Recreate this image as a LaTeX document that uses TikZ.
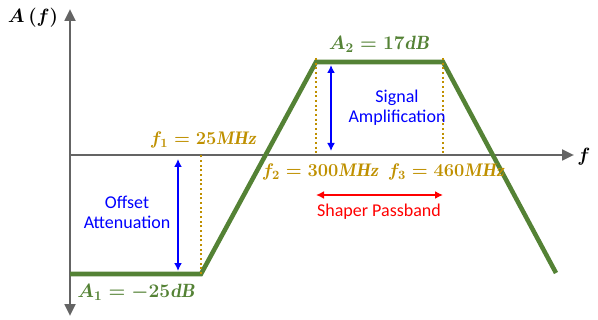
\documentclass[tikz,border=0pt]{standalone}
\usepackage{amsmath}
\usepackage{fontspec}
\setsansfont{Carlito}
\usetikzlibrary{arrows.meta}
\definecolor{curvegreen}{RGB}{84,130,53}
\definecolor{labelgold}{RGB}{191,144,0}
\definecolor{axisgray}{RGB}{100,100,100}

\begin{document}
\begin{tikzpicture}[x=0.75pt,y=-0.75pt,
	axis/.style={draw=axisgray, line width=2pt},
	response/.style={draw=curvegreen, line width=3.4pt, line join=miter},
	guide/.style={draw=labelgold, line width=1.5pt, dotted},
	span/.style={line width=1.8pt, {Latex[length=6pt,width=6pt]}-{Latex[length=6pt,width=6pt]}},
	mlabel/.style={font=\Large\boldmath, inner sep=0pt},
	flabel/.style={font=\Large\boldmath, scale=0.95, inner sep=0pt, text=labelgold},
	slabel/.style={font=\sffamily\fontsize{13.5}{15}\selectfont, align=center, inner sep=0pt}]
	\useasboundingbox (0,0) rectangle (598,320);

	% Draw axes
	\coordinate (origin) at (70,155);
	\coordinate (ytop) at (70,9);
	\coordinate (ybot) at (70,316);
	\coordinate (xend) at (574,155);
	%Y
	\draw[axis, {Triangle[length=9pt,width=8pt]}-{Triangle[length=9pt,width=8pt]}] (ybot) -- (ytop);
	\node[mlabel] (ylabel) at (33,18) {$A\,(f)$};
	%X
	\draw[axis, -{Triangle[length=9pt,width=8pt]}] (origin) -- (xend);
	\node[mlabel] (xlabel) at (584,157) {$f$};

	% Plot response curve
	\coordinate (c0) at (70,274);
	\coordinate (c1) at (201,274);
	\coordinate (c2) at (316,62);
	\coordinate (c3) at (443,62);
	\coordinate (c4) at (556,273);
	\draw[response] (c0) -- (c1) -- (c2) -- (c3) -- (c4);

	%Plot illustrative lines
	\coordinate (f1) at (201,155);
	\coordinate (f2) at (316,155);
	\coordinate (f3) at (443,155);
	\draw[guide] (c1) -- (f1);
	\draw[guide] ([yshift=3pt]c2) -- (f2);
	\draw[guide] ([yshift=3pt]c3) -- (f3);

	%Arrows
	\coordinate (att top) at (178,159);
	\coordinate (att bot) at (178,271);
	\coordinate (amp top) at (331,65);
	\coordinate (amp bot) at (331,151);
	\coordinate (pb left) at (316,195);
	\coordinate (pb right) at (443,195);
	\draw[span, blue] (att top) -- (att bot);
	\draw[span, blue] (amp top) -- (amp bot);
	\draw[span, red] (pb left) -- (pb right);

	%Add labels
	\node[slabel, text=blue] (att) at (127,212) {Offset\\Attenuation};
	\node[slabel, text=blue] (amp) at (397,108) {Signal\\Amplification};
	\node[slabel, text=red] (pb) at (379,212) {Shaper Passband};
	\node[flabel] (f1 label) at (203,140) {$f_1 = 25\mathit{MHz}$};
	\node[flabel] (f2 label) at (320,172) {$f_2 = 300\mathit{MHz}$};
	\node[flabel] (f3 label) at (446,172) {$f_3 = 460\mathit{MHz}$};
	\node[mlabel, text=curvegreen] (a2 label) at (379,44) {$A_2 = 17\mathit{dB}$};
	\node[mlabel, text=curvegreen] (a1 label) at (136,292) {$A_1 = -25\mathit{dB}$};
\end{tikzpicture}
\end{document}
